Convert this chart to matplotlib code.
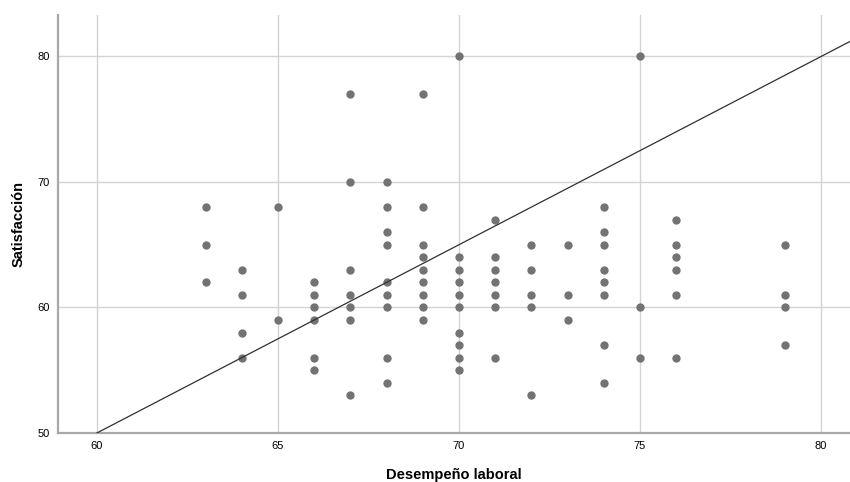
import matplotlib
matplotlib.use('Agg')
import matplotlib.pyplot as plt

plt.rcParams['font.family'] = ['Liberation Sans', 'DejaVu Sans']

# Desempeño laboral (x) per column, with the Satisfacción values seen in each
columns = [63, 64, 65, 66, 67, 68, 69, 70, 71, 72, 73, 74, 75, 76, 79]
satisfaccion = [
    [68, 65, 62],
    [63, 61, 58, 56],
    [68, 59],
    [62, 61, 60, 59, 56, 55],
    [77, 70, 63, 61, 60, 59, 53],
    [70, 68, 66, 65, 62, 61, 60, 56, 54],
    [77, 68, 65, 64, 63, 62, 61, 60, 59],
    [80, 64, 63, 62, 61, 60, 58, 57, 56, 55],
    [67, 64, 63, 62, 61, 60, 56],
    [65, 63, 61, 60, 53],
    [65, 61, 59],
    [68, 66, 65, 63, 62, 61, 57, 54],
    [80, 60, 56],
    [67, 65, 64, 63, 61, 56],
    [65, 61, 60, 57],
]

# Reference line endpoints
ref_x = [60, 80]
ref_y = [50, 80]

x = []
y = []
for col, vals in zip(columns, satisfaccion):
    x += [col] * len(vals)
    y += vals

fig = plt.figure(figsize=(8.5, 4.82), dpi=100)
ax = fig.add_axes([0.068, 0.1017, 0.932, 0.867])

ax.set_xlim(58.92, 80.8)
ax.set_ylim(50, 83.3)

ax.grid(True, color='#d4d4d4', linewidth=1.0, zorder=0)
ax.set_axisbelow(True)

ax.scatter(x, y, s=36, color='#737373', linewidths=0, zorder=3)

# Extend the reference line across the plot
slope = (ref_y[1] - ref_y[0]) / (ref_x[1] - ref_x[0])
x1 = ax.get_xlim()[1]
ax.plot([ref_x[0], x1], [ref_y[0], ref_y[0] + slope * (x1 - ref_x[0])],
        color='#303030', linewidth=0.9, zorder=4, clip_on=True)

ax.set_xticks([60, 65, 70, 75, 80])
ax.set_yticks([50, 60, 70, 80])
ax.tick_params(length=0, labelsize=8, colors='#000000', pad=6)
ax.tick_params(axis='y', pad=6)

for s in ['top', 'right']:
    ax.spines[s].set_visible(False)
for s in ['left', 'bottom']:
    ax.spines[s].set_color('#a8a8a8')
    ax.spines[s].set_linewidth(1.6)

ax.set_xlabel('Desempeño laboral', fontsize=10.5, fontweight='bold', labelpad=12)
ax.set_ylabel('Satisfacción', fontsize=10.5, fontweight='bold', labelpad=8)

fig.savefig('out.png', dpi=100)
